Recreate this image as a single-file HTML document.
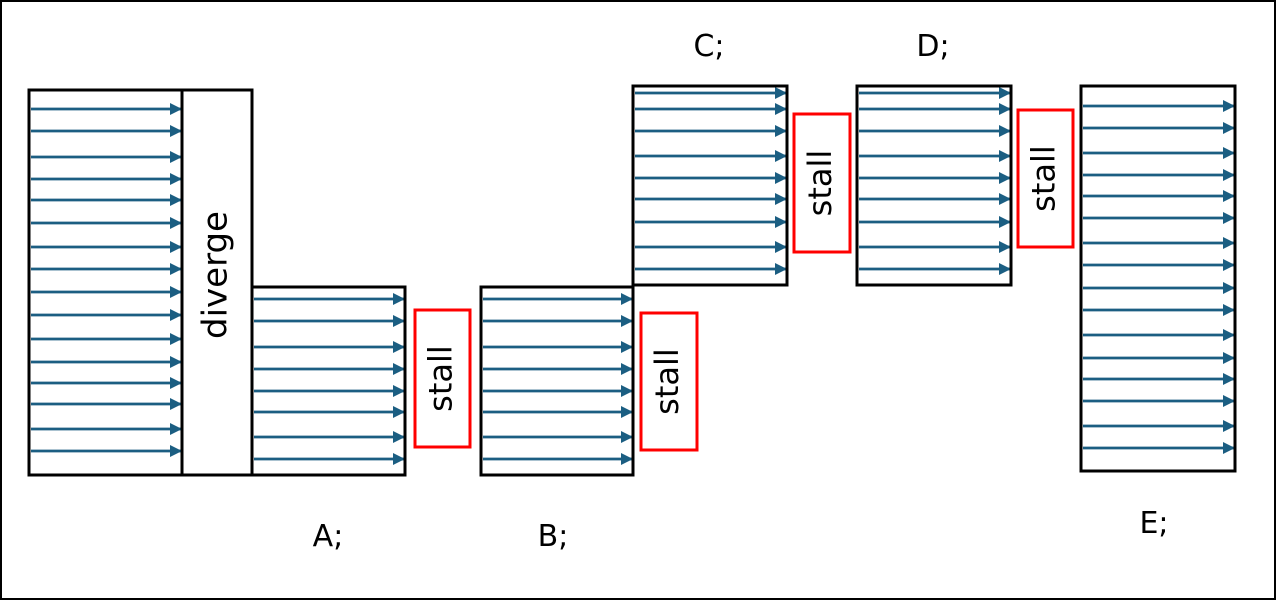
<!DOCTYPE html>
<html><head><meta charset="utf-8"><style>
html,body{margin:0;padding:0;background:#fff}
svg{display:block;font-family:"DejaVu Sans","Liberation Sans",sans-serif}
</style></head><body>
<svg id="d" width="1276" height="600" viewBox="0 0 1276 600">
<rect x="1" y="1" width="1274" height="598" fill="#fff" stroke="#000" stroke-width="2"/>
<defs><marker id="ah" markerWidth="12" markerHeight="12" refX="11" refY="6" orient="auto" markerUnits="userSpaceOnUse"><path d="M0,0 L12,6 L0,12 Z" fill="#1b5e82"/></marker></defs>
<g id="arrows"></g>
<g id="boxes"></g>
<text x="217" y="275" font-size="34" text-anchor="middle" dominant-baseline="middle" transform="rotate(-90 217 275)">diverge</text>
<text x="328" y="546" font-size="30" text-anchor="middle">A;</text>
<text x="553" y="546" font-size="30" text-anchor="middle">B;</text>
<text x="709" y="56" font-size="30" text-anchor="middle">C;</text>
<text x="933" y="56" font-size="30" text-anchor="middle">D;</text>
<text x="1154" y="533" font-size="30" text-anchor="middle">E;</text>
</svg>
<script>
const ns='http://www.w3.org/2000/svg';
const blockNames=['start','a','b','c','d','e'];
const blockX=[[29,182],[252,405],[481,633],[633,787],[857,1011],[1081,1235]];
const blockY=[[90,475],[287,475],[287,475],[86,285],[86,285],[86,471]];
const arrowsStart=[109,131,157,179,200,223,247,269,292,315,339,362,383,404,429,451];
const arrowsAB=[299,321,347,369,391,412,437,459];
const arrowsCD=[93,109,131,156,178,199,222,247,269];
const arrowsE=[106,128,153,175,196,218,243,265,288,310,335,358,379,401,426,448];
const blockArrows=[arrowsStart,arrowsAB,arrowsAB,arrowsCD,arrowsCD,arrowsE];
const stallNames=['stall-a','stall-b','stall-c','stall-d'];
const stallRects=[[415,310,55,137],[641,313,56,137],[794,114,56,138],[1018,110,55,137]];
const ag=document.getElementById('arrows'),bg=document.getElementById('boxes');
blockNames.forEach((n,i)=>{
  blockArrows[i].forEach(y=>{
    const l=document.createElementNS(ns,'line');
    l.setAttribute('x1',blockX[i][0]+2);l.setAttribute('x2',blockX[i][1]-1);
    l.setAttribute('y1',y);l.setAttribute('y2',y);
    l.setAttribute('stroke','#1b5e82');l.setAttribute('stroke-width','2.8');
    l.setAttribute('marker-end','url(#ah)');
    
    
    ag.appendChild(l);
  });
  const r=document.createElementNS(ns,'rect');
  r.setAttribute('x',blockX[i][0]);r.setAttribute('y',blockY[i][0]);
  r.setAttribute('width',blockX[i][1]-blockX[i][0]);r.setAttribute('height',blockY[i][1]-blockY[i][0]);
  r.setAttribute('fill','none');r.setAttribute('stroke','#000');r.setAttribute('stroke-width','3');
  
  
  bg.appendChild(r);
});
const dv=document.createElementNS(ns,'rect');
dv.setAttribute('x',182);dv.setAttribute('y',90);dv.setAttribute('width',70);dv.setAttribute('height',385);
dv.setAttribute('fill','none');dv.setAttribute('stroke','#000');dv.setAttribute('stroke-width','3');


bg.appendChild(dv);
stallRects.forEach((s,i)=>{
  const r=document.createElementNS(ns,'rect');
  r.setAttribute('x',s[0]);r.setAttribute('y',s[1]);r.setAttribute('width',s[2]);r.setAttribute('height',s[3]);
  r.setAttribute('fill','#fff');r.setAttribute('stroke','#f00');r.setAttribute('stroke-width','3');
  
  
  bg.appendChild(r);
  const cx=s[0]+s[2]/2,cy=s[1]+s[3]/2;
  const t=document.createElementNS(ns,'text');
  t.setAttribute('x',cx);t.setAttribute('y',cy);t.setAttribute('font-size','32');
  t.setAttribute('text-anchor','middle');t.setAttribute('dominant-baseline','middle');
  t.setAttribute('transform','rotate(-90 '+cx+' '+cy+')');
  t.textContent='stall';
  
  
  bg.appendChild(t);
});
</script>
</body></html>
